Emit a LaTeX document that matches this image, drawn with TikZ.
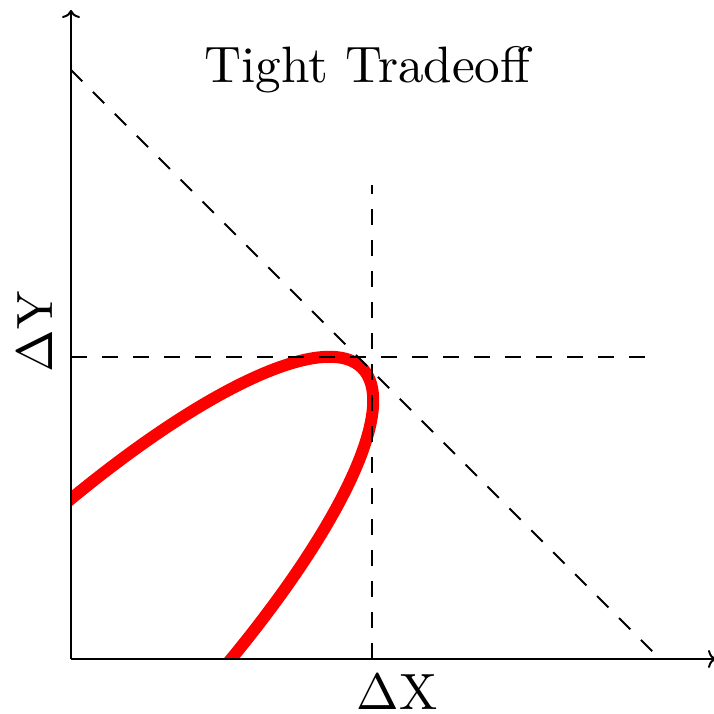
\documentclass[tikz,border=0pt]{standalone}
\usepackage{graphicx}
\usetikzlibrary{arrows.meta}
\begin{document}
\begin{tikzpicture}[x=1pt,y=1pt,
  axis/.style={line width=2pt,-{To[length=8pt,width=18pt]}},
  guide/.style={line width=2pt,dash pattern=on 16pt off 15pt},
  curve/.style={line width=12pt,red},
  lbl/.style={inner sep=0pt}]
\useasboundingbox (-71,-55) rectangle (643,659);
\coordinate (O) at (0,0);
\coordinate (xend) at (645,0);
\coordinate (yend) at (0,649);
\coordinate (dtop) at (0,589);
\coordinate (dbot) at (585,4);
\coordinate (vbot) at (301,0);
\coordinate (vtop) at (301,474);
\coordinate (hleft) at (0,302);
\coordinate (hright) at (579,302);
\begin{scope}
\clip (0,0) rectangle (643,659);
\draw[curve, rotate=45] (-42.43,0) ellipse (454 and 120.5);
\end{scope}
\draw[guide] (dtop) -- (dbot);
\draw[guide] (vbot) -- (vtop);
\draw[guide] (hleft) -- (hright);
\draw[axis] (O) -- (xend);
\draw[axis] (O) -- (yend);
\node[lbl, anchor=base] (title) at (296.5,576) {\scalebox{5.12}{Tight Tradeoff}};
\node[lbl, anchor=base] (xlabel) at (326,-51) {\scalebox{5.1}{$\Delta$X}};
\node[lbl, rotate=90, anchor=base] (ylabel) at (-18,327) {\scalebox{5.1}{$\Delta$Y}};
\end{tikzpicture}
\end{document}
